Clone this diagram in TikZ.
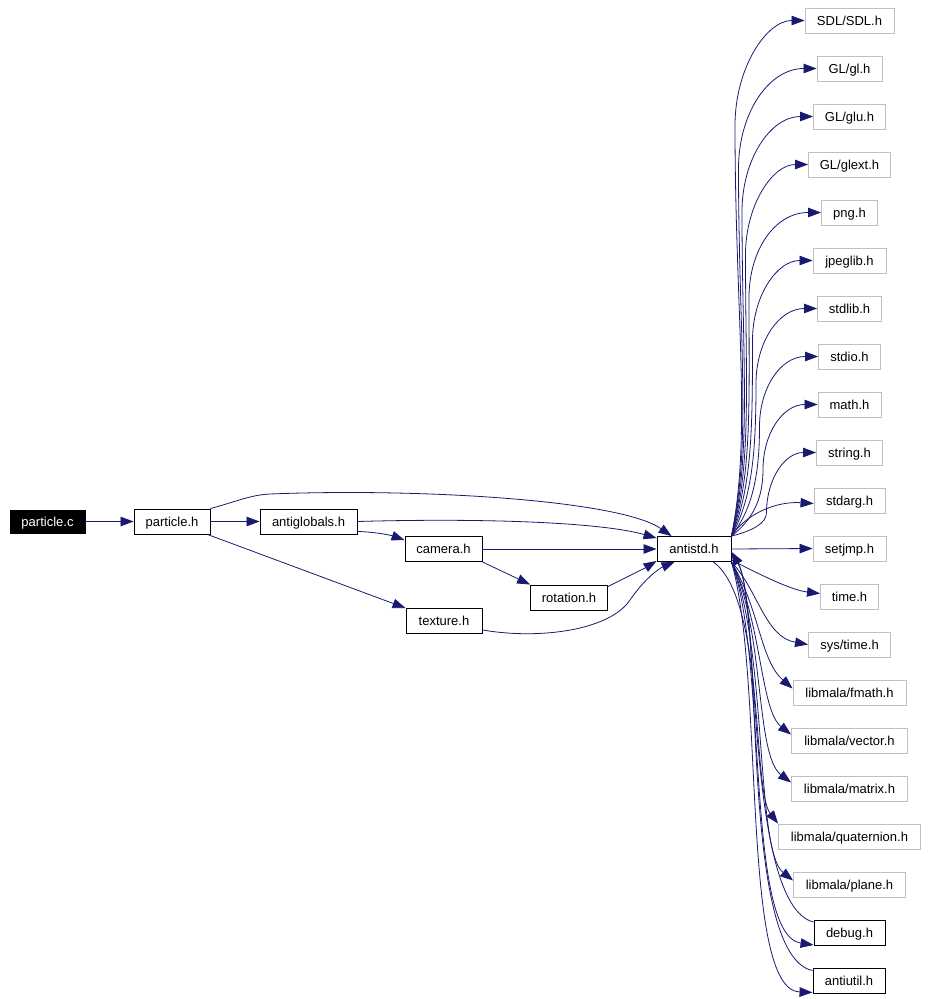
\documentclass[tikz,border=0pt]{standalone}
\usepackage{fontspec}
\setmainfont{Liberation Sans}
\usetikzlibrary{arrows.meta,calc}
\definecolor{navy}{HTML}{191970}
\definecolor{leafgrey}{HTML}{BFBFBF}
\newcommand\fsz{\fontsize{13}{15}\selectfont}
\tikzset{
  box/.style={draw=black, line width=0.9pt, minimum height=25pt, inner sep=0pt, font=\fsz, fill=white, text height=9.5pt, text depth=0pt},
  leaf/.style={box, draw=leafgrey},
  rootbox/.style={box, fill=black, text=white, minimum height=23pt},
  dep/.style={draw=navy, line width=0.8pt, -{Triangle[length=13pt,width=9.5pt]}}
}
\begin{document}
\begin{tikzpicture}[x=1pt,y=-1pt]
\useasboundingbox (0,0) rectangle (927,999);
% left part
\node[rootbox, minimum width=75pt] (pc) at (47.5,521.5) {particle.c};
\node[box, minimum width=76pt] (ph) at (172,521.5) {particle.h};
\node[box, minimum width=97pt] (ag) at (308.5,521.5) {antiglobals.h};
\node[box, minimum width=77pt] (cam) at (443.5,549) {camera.h};
\node[box, minimum width=76pt] (tex) at (444,621) {texture.h};
\node[box, minimum width=77pt] (rot) at (569,597.5) {rotation.h};
\node[box, minimum width=74pt] (as) at (694,549) {antistd.h};
% right column
\foreach \n/\k/\w/\t in {sdl/0/89/SDL\slash SDL.h, gl/1/65/GL\slash gl.h, glu/2/72/GL\slash glu.h,
  glext/3/82/GL\slash glext.h, png/4/56/png.h, jpeg/5/73/jpeglib.h, stdlib/6/64/stdlib.h,
  stdio/7/62/stdio.h, math/8/63/math.h, string/9/66/string.h, stdarg/10/71/stdarg.h,
  setjmp/11/73/setjmp.h, time/12/58/time.h, systime/13/82/sys\slash time.h,
  fmath/14/113/libmala\slash fmath.h, vector/15/116/libmala\slash vector.h,
  matrix/16/116/libmala\slash matrix.h, quat/17/142/libmala\slash quaternion.h,
  plane/18/112/libmala\slash plane.h}{
  \node[leaf, minimum width=\w pt] (\n) at (849.5,20.5+48*\k) {\t};
}
\node[box, minimum width=71pt] (debug) at (849.5,933) {debug.h};
\node[box, minimum width=72pt] (antiutil) at (849,980.5) {antiutil.h};

% left edges
\draw[dep] (pc.east) -- (ph.west);
\draw[dep] (ph.east) -- (ag.west);
\draw[dep] (ph.north east) .. controls (235,502) and (250,495) .. (270,494)
  .. controls (420,488) and (620,500) .. ([xshift=15pt]as.north west);
\draw[dep] ([xshift=-3pt]ph.south east) -- (tex.north west);
\draw[dep] ([yshift=3pt]ag.south east) .. controls (375,532) and (390,535) .. ([yshift=-4pt]cam.north west);
\draw[dep] (ag.east) .. controls (480,518) and (600,522) .. ([yshift=-2pt]as.north west);
\draw[dep] (cam.east) -- (as.west);
\draw[dep] (cam.south east) -- (rot.north west);
\draw[dep] ([yshift=-2pt]rot.north east) .. controls (625,578) and (645,568) .. ([yshift=1pt]as.south west);
\draw[dep] ([yshift=4pt]tex.south east) .. controls (540,640) and (610,630) .. (630,600)
  .. controls (645,578) and (660,568) .. ([xshift=18pt]as.south west);

% upper right edges
\foreach \n/\k in {sdl/0,gl/1,glu/2,glext/3,png/4,jpeg/5,stdlib/6,stdio/7,math/8,string/9}{
  \pgfmathsetmacro\ty{20.5+48*\k}
  \pgfmathsetmacro\hh{55+5*(10-\k)}
  \pgfmathsetmacro\wx{735+3.5*\k}
  \pgfmathsetmacro\wy{\ty+\hh}
  \pgfmathsetmacro\cyA{537-0.25*(537-\wy)}
  \pgfmathsetmacro\cyB{\wy+0.45*(537-\wy)}
  \pgfmathsetmacro\cyC{\ty+0.45*\hh}
  \pgfmathsetmacro\cxC{\wx+0.3*\hh}
  \draw[dep] (as.north east) .. controls (752,\cyA) and (\wx,\cyB) .. (\wx,\wy)
    .. controls (\wx,\cyC) and (\cxC,\ty) .. (\n.west);
}
\draw[dep] (as.north east) .. controls (745,515) and (775,501) .. ([yshift=-3pt]stdarg.west);
% lower right edges
\draw[dep] (as.east) -- (setjmp.west);
\draw[dep] ([yshift=2pt]as.south east) .. controls (755,572) and (790,590) .. ([yshift=3pt]time.west);
\draw[dep] (as.south east) .. controls (758,590) and (765,637) .. (systime.west);
\draw[dep] (as.south east) .. controls (760,610) and (760,660) .. ([yshift=4pt]fmath.west);
\draw[dep] (as.south east) .. controls (762,620) and (760,710) .. ([yshift=6pt]vector.west);
\draw[dep] (as.south east) .. controls (765,630) and (755,755) .. ([yshift=6pt]matrix.west);
\draw[dep] ([xshift=-18pt]as.south east) .. controls (765,600) and (752,790) .. (quat.north west);
\draw[dep] (as.south east) .. controls (768,650) and (755,850) .. ([yshift=4pt]plane.west);
\draw[dep] (as.south east) .. controls (768,660) and (745,935) .. ([yshift=1pt]debug.south west);
\draw[dep] (as.south east) .. controls (765,680) and (740,990) .. ([yshift=1pt]antiutil.south west);
% return edges
\draw[dep] ([yshift=-2pt]debug.north west) .. controls (745,905) and (760,600) .. ([yshift=-3pt]as.east);
\draw[dep] ([yshift=-3pt]antiutil.north west) .. controls (738,955) and (765,610) .. ([yshift=-3pt]as.east);
\end{tikzpicture}
\end{document}
